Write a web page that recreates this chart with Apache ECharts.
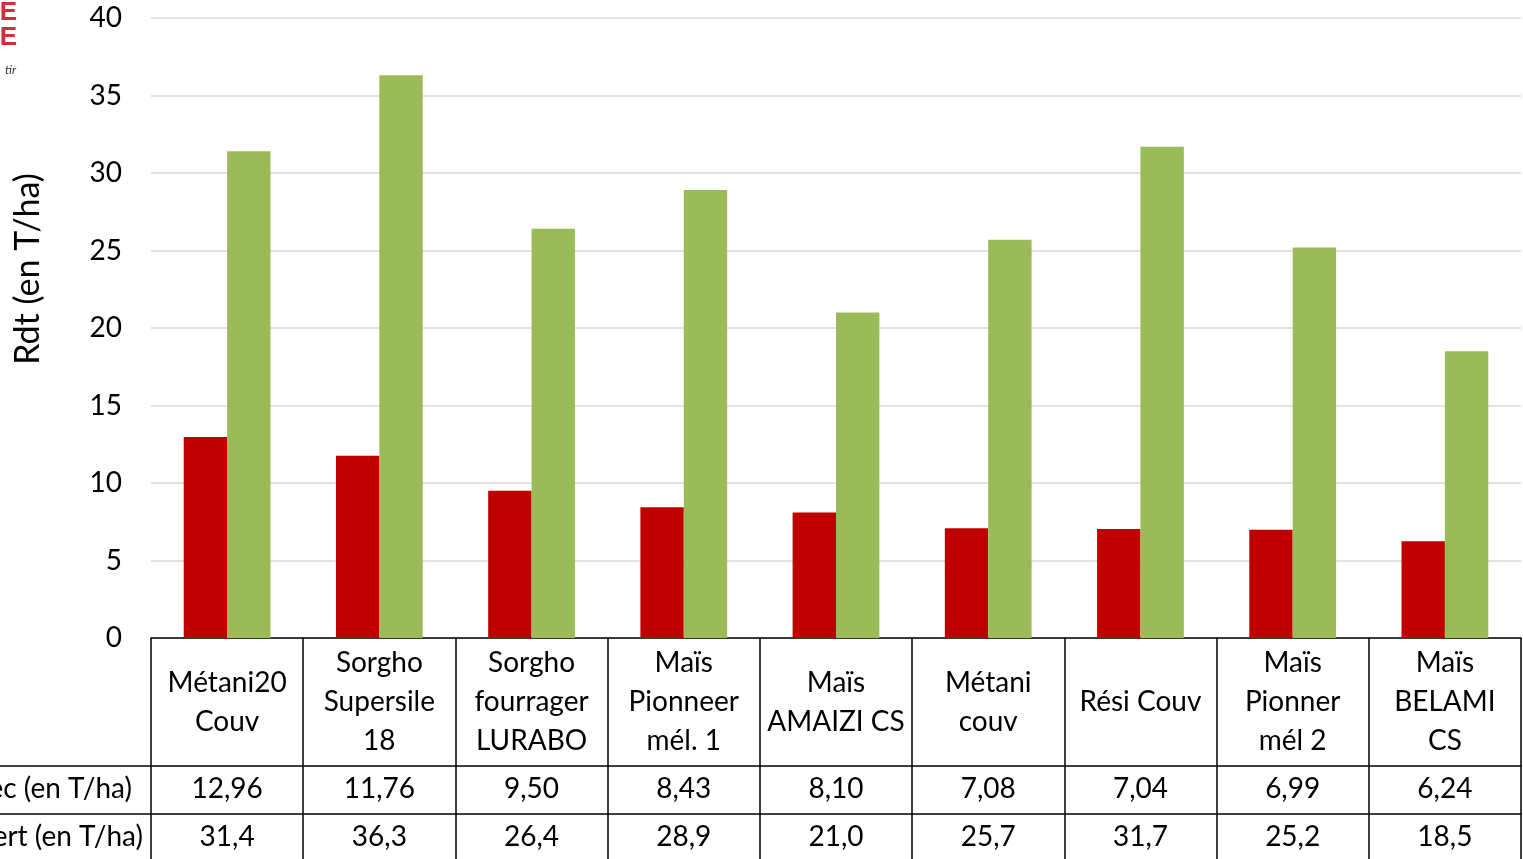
<!DOCTYPE html>
<html>
<head>
<meta charset="utf-8">
<script src="https://cdn.jsdelivr.net/npm/echarts@6/dist/echarts.min.js"></script>
<style>
  html, body { margin: 0; padding: 0; background: #fff; }
  #chart { width: 1523px; height: 859px; }
</style>
</head>
<body>
<div id="chart"></div>
<script>
// categories (table header) and the two series
var categories = ['Métani20\nCouv', 'Sorgho\nSupersile\n18', 'Sorgho\nfourrager\nLURABO', 'Maïs\nPionneer\nmél. 1',
    'Maïs\nAMAIZI CS', 'Métani\ncouv', 'Rési Couv', 'Maïs\nPionner\nmél 2', 'Maïs\nBELAMI\nCS'];
var rdtSec = [12.96, 11.76, 9.50, 8.43, 8.10, 7.08, 7.04, 6.99, 6.24];
var rdtVert = [31.4, 36.3, 26.4, 28.9, 21.0, 25.7, 31.7, 25.2, 18.5];
var serieNames = ['Rdt sec (en T/ha)', 'Rdt vert (en T/ha)'];
var yTicks = [0, 5, 10, 15, 20, 25, 30, 35, 40];

var FONT = 'Lato';
var FS = 28;

var fmt = function (v, d) {
    return v.toFixed(d).replace('.', ',');
};

var chart = echarts.init(document.getElementById('chart'));

var tableAxis = function (values, offset) {
    return {
        type: 'category',
        position: 'bottom',
        offset: offset,
        data: values,
        axisLine: { show: true, lineStyle: { color: '#000', width: 1.5 } },
        axisTick: { show: false },
        axisLabel: {
            interval: 0, color: '#000', fontFamily: FONT, fontSize: FS,
            verticalAlign: 'middle', margin: 23
        },
        splitLine: { show: false }
    };
};

var option = {
    backgroundColor: '#fff',
    animation: false,
    grid: { left: 151, right: 2, top: 18, bottom: 221, containLabel: false },
    xAxis: [{
        type: 'category',
        position: 'bottom',
        data: categories,
        axisLine: { show: true, lineStyle: { color: '#000', width: 1.5 } },
        axisTick: { show: true, interval: 0, length: 225, lineStyle: { color: '#000', width: 1.5 } },
        axisLabel: {
            interval: 0, color: '#000', fontFamily: FONT, fontSize: FS,
            lineHeight: 39, verticalAlign: 'middle', align: 'center', margin: 64
        },
        splitLine: { show: false }
    },
        tableAxis(rdtSec.map(function (v) { return fmt(v, 2); }), 128),
        tableAxis(rdtVert.map(function (v) { return fmt(v, 1); }), 176)
    ],
    yAxis: {
        type: 'value',
        min: yTicks[0],
        max: yTicks[yTicks.length - 1],
        interval: 5,
        axisLine: { show: false },
        axisTick: { show: false },
        axisLabel: { color: '#000', fontFamily: FONT, fontSize: FS, margin: 29 },
        splitLine: { lineStyle: { color: '#d9d9d9', width: 1.5 } }
    },
    series: [{
        name: serieNames[0],
        type: 'bar',
        data: rdtSec,
        barGap: 0,
        barCategoryGap: '43%',
        itemStyle: { color: '#C00000' }
    }, {
        name: serieNames[1],
        type: 'bar',
        data: rdtVert,
        barGap: 0,
        barCategoryGap: '43%',
        itemStyle: { color: '#9BBB59' }
    }],
    graphic: [
        // axis title
        {
            type: 'text', x: 28, y: 269, rotation: Math.PI / 2,
            style: { text: 'Rdt (en T/ha)', fill: '#000', font: '34px "' + FONT + '"', align: 'center', verticalAlign: 'middle' }
        },
        // row headers (cut off on the left like the picture)
        {
            type: 'text', x: 132, y: 789,
            style: { text: serieNames[0], fill: '#000', font: FS + 'px "' + FONT + '"', align: 'right', verticalAlign: 'middle' }
        },
        {
            type: 'text', x: 143, y: 837,
            style: { text: serieNames[1], fill: '#000', font: FS + 'px "' + FONT + '"', align: 'right', verticalAlign: 'middle' }
        },
        { type: 'line', shape: { x1: 0, y1: 766, x2: 151, y2: 766 }, style: { stroke: '#000', lineWidth: 1.5 } },
        { type: 'line', shape: { x1: 0, y1: 814, x2: 151, y2: 814 }, style: { stroke: '#000', lineWidth: 1.5 } },
        // logo fragment in the corner
        {
            type: 'text', x: 17, y: 13,
            style: { text: 'RE', fill: '#cf2e3a', font: 'bold 26px "Liberation Sans Narrow", "Liberation Sans"', align: 'right', verticalAlign: 'middle' }
        },
        {
            type: 'text', x: 17, y: 38,
            style: { text: 'ME', fill: '#cf2e3a', font: 'bold 26px "Liberation Sans Narrow", "Liberation Sans"', align: 'right', verticalAlign: 'middle' }
        },
        {
            type: 'text', x: 16, y: 70,
            style: { text: 'tir', fill: '#333', font: 'italic 12px "' + FONT + '"', align: 'right', verticalAlign: 'middle' }
        }
    ]
};

chart.setOption(option);
</script>
</body>
</html>
